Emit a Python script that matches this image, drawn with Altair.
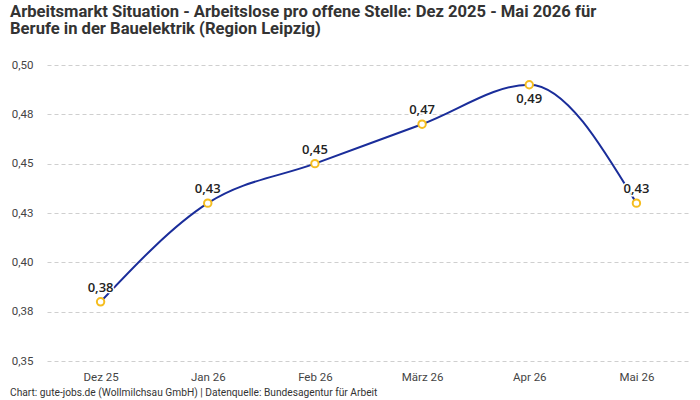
import altair as alt
import pandas as pd

# Monthly ratio of unemployed persons per open position
months = ["Dez 25", "Jan 26", "Feb 26", "März 26", "Apr 26", "Mai 26"]
ratio = [0.38, 0.43, 0.45, 0.47, 0.49, 0.43]

y_ticks = [0.35, 0.375, 0.40, 0.425, 0.45, 0.475, 0.50]

title_lines = [
    "Arbeitsmarkt Situation - Arbeitslose pro offene Stelle: Dez 2025 - Mai 2026 für",
    "Berufe in der Bauelektrik (Region Leipzig)",
]
footer = "Chart: gute-jobs.de (Wollmilchsau GmbH) | Datenquelle: Bundesagentur für Arbeit"

FONT = "Roboto"
LABEL_FONT = "Open Sans"
W, H = 643, 296

df = pd.DataFrame({"Monat": months, "Wert": ratio})
df["Label"] = [f"{v:.2f}".replace(".", ",") for v in ratio]
peak = df["Wert"].max()
df["Unten"] = df["Wert"] == peak

x = alt.X(
    "Monat:N",
    sort=months,
    scale=alt.Scale(paddingInner=0, paddingOuter=0),
    axis=alt.Axis(
        title=None, domain=False, ticks=False, labelAngle=0, labelPadding=10,
        labelFont=FONT, labelFontSize=11.5, labelColor="#444",
    ),
)
y = alt.Y(
    "Wert:Q",
    scale=alt.Scale(domain=[0.35, 0.50], nice=False, zero=False),
    axis=alt.Axis(
        title=None, domain=False, ticks=False, values=y_ticks,
        labelExpr="replace(format(datum.value + 1e-9, '.2f'), '.', ',')",
        labelPadding=14, labelFont=FONT, labelFontSize=11.5, labelColor="#444",
        grid=True, gridDash=[4, 3], gridColor="#cfcfcf", gridWidth=1,
    ),
)

base = alt.Chart(df).encode(x=x, y=y)

line = base.mark_line(interpolate="monotone", color="#1a2d9a", strokeWidth=2)
points = base.mark_point(
    shape="circle", filled=True, fill="white", stroke="#f5bd1f",
    strokeWidth=2, size=55, opacity=1,
)

def labels(below):
    sel = base.transform_filter(
        alt.datum.Unten if below else ~alt.datum.Unten
    )
    dy = 14 if below else -14
    halo = sel.mark_text(
        font=LABEL_FONT, fontSize=13, fontWeight=600, dy=dy,
        stroke="white", strokeWidth=3, color="white",
    ).encode(text="Label:N")
    txt = sel.mark_text(
        font=LABEL_FONT, fontSize=13, fontWeight=600, dy=dy, color="#222",
    ).encode(text="Label:N")
    return halo + txt

foot = alt.Chart(pd.DataFrame({"t": [footer]})).mark_text(
    font=FONT, fontSize=10.2, color="#333", align="left", baseline="middle",
).encode(text="t:N", x=alt.value(-37), y=alt.value(H + 32))

chart = (
    alt.layer(line, points, labels(False), labels(True), foot)
    .properties(
        width=W,
        height=H,
        autosize=alt.AutoSizeParams(type="none"),
        padding={"left": 47, "top": 65, "right": 10, "bottom": 39},
        title=alt.Title(
            title_lines, anchor="start", frame="group", dx=-37, offset=21,
            font=FONT, fontSize=16.6, fontWeight="bold", color="#333",
            lineHeight=17.5,
        ),
    )
    .configure_view(stroke=None)
)

chart.save("out.html", embed_options={"renderer": "svg", "actions": False})
